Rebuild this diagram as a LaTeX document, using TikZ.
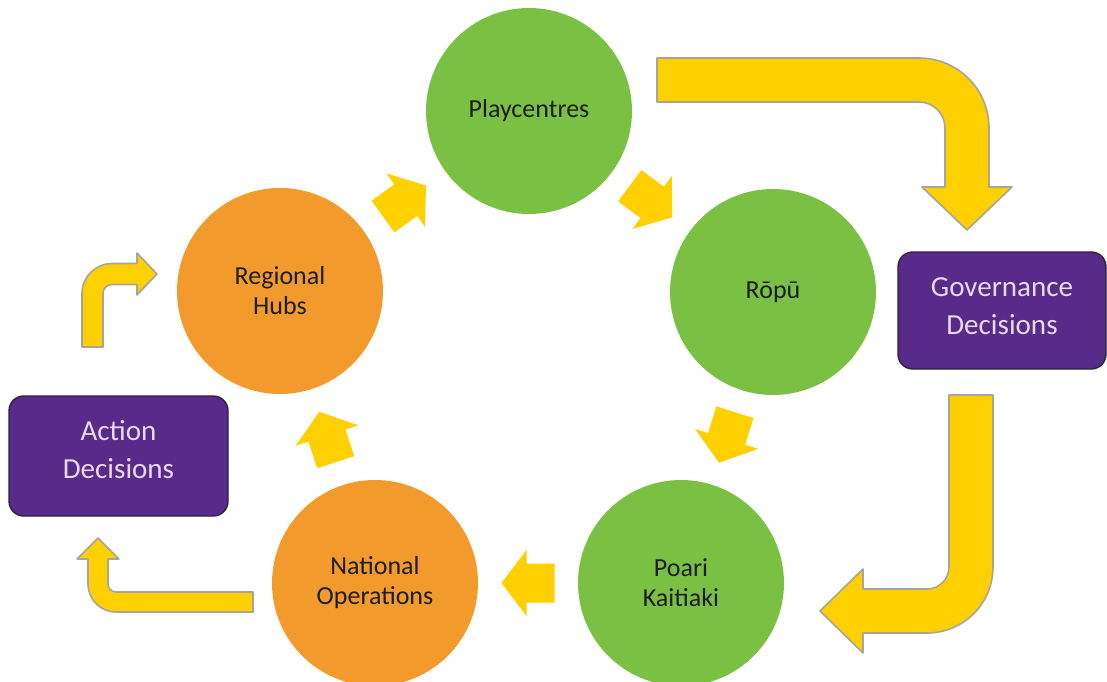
\documentclass[tikz,border=0pt]{standalone}
\usepackage{fontspec}
\setmainfont{Carlito}
\usetikzlibrary{calc}
\definecolor{pgreen}{HTML}{7AC143}
\definecolor{porange}{HTML}{F39A2C}
\definecolor{ppurple}{HTML}{582A8A}
\definecolor{pborder}{HTML}{2E1F3F}
\definecolor{plav}{HTML}{E8DAF2}
\definecolor{pyellow}{HTML}{FFD000}
\definecolor{pgray}{HTML}{A8A49C}
\definecolor{ptext}{HTML}{1C1C1C}
\begin{document}
\begin{tikzpicture}[x=0.75pt,y=-0.75pt,
  circ/.style={circle, minimum size=154.5pt, inner sep=0pt, text=ptext, align=center,
    font=\fontsize{19.5pt}{22.5pt}\selectfont},
  gcirc/.style={circ, fill=pgreen},
  ocirc/.style={circ, fill=porange},
  decbox/.style={rectangle, rounded corners=11pt, fill=ppurple, draw=pborder, line width=1pt},
  dectext/.style={text=plav, align=center, font=\fontsize{21.8pt}{28.5pt}\selectfont},
  bent/.style={fill=pyellow, draw=pgray, line width=1.2pt, line join=round},
  blockarrow/.pic={\fill[pyellow] (-26.5,-19.5) -- (1.5,-19.5) -- (1.5,-33) -- (26.5,0)
    -- (1.5,33) -- (1.5,19.5) -- (-26.5,19.5) -- cycle;}
]
\useasboundingbox (0,0) rectangle (1107,682);

% circles
\node[gcirc] (play)  at (529,111) {Playcentres};
\node[gcirc] (ropu)  at (773,292) {Rōpū};
\node[gcirc] (poari) at (681,583) {Poari\\Kaitiaki};
\node[ocirc] (natl)  at (375,583) {National\\Operations};
\node[ocirc] (hubs)  at (280,291) {Regional\\Hubs};

% decision boxes
\node[decbox, minimum width=156pt, minimum height=87.75pt,
  label={[dectext, yshift=3pt]center:Governance\\Decisions}] (gov) at (1002,310.5) {};
\node[decbox, minimum width=164.25pt, minimum height=90pt,
  label={[dectext, yshift=4.5pt]center:Action\\Decisions}] (act) at (118.5,456) {};

% small block arrows between circles
\foreach \a/\b in {hubs/play, play/ropu, ropu/poari, poari/natl, natl/hubs} {
  \path let \p1=($(\b)-(\a)$), \n1={atan2(\y1,\x1)} in
    pic[rotate=\n1] at ($(\a)!0.5!(\b)$) {blockarrow};
}

% bent arrow: Playcentres -> Governance
\draw[bent] (657,58) -- (919,58) .. controls (957.7,58) and (989,89.3) .. (989,128)
  -- (989,187) -- (1012,187) -- (967,230) -- (922,187) -- (945,187) -- (945,128)
  .. controls (945,113.6) and (933.4,102) .. (919,102) -- (657,102) -- cycle;

% bent arrow: Governance -> Poari Kaitiaki
\draw[bent] (949,395) -- (993,395) -- (993,567) .. controls (993,603.5) and (963.5,633) .. (927,633)
  -- (863,633) -- (863,653) -- (820,611) -- (863,569) -- (863,589) -- (927,589)
  .. controls (939.2,589) and (949,579.2) .. (949,567) -- cycle;

% bent arrow: Action -> Regional Hubs
\draw[bent] (82,347) -- (82,293.5) .. controls (82,276.9) and (95.4,263.5) .. (112,263.5)
  -- (137,263.5) -- (137,253) -- (157,274) -- (137,295) -- (137,284.5) -- (112,284.5)
  .. controls (107,284.5) and (103,288.5) .. (103,293.5) -- (103,347) -- cycle;

% bent arrow: National Operations -> Action
\draw[bent] (253,592) -- (253,612) -- (116,612) .. controls (100.5,612) and (88,599.5) .. (88,584)
  -- (88,559) -- (77,559) -- (98,538) -- (119,559) -- (108,559) -- (108,584)
  .. controls (108,588.4) and (111.6,592) .. (116,592) -- cycle;
\end{tikzpicture}
\end{document}
